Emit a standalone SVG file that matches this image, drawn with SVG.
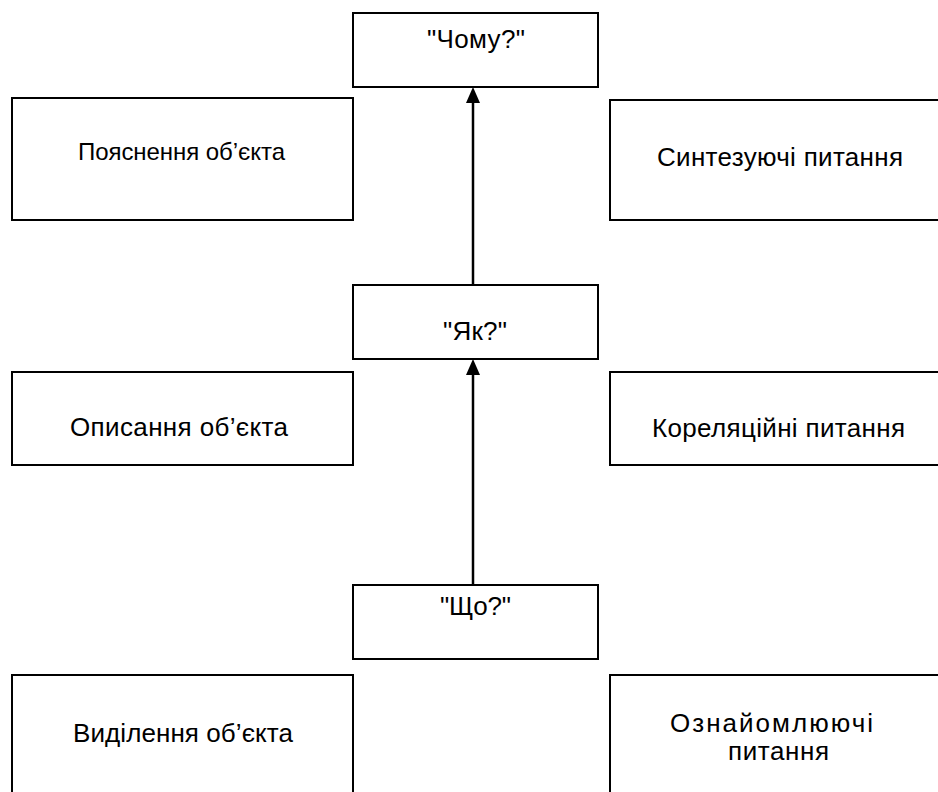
<svg xmlns="http://www.w3.org/2000/svg" width="938" height="792" viewBox="0 0 938 792">
<style>
.box{fill:#fff;stroke:#000;stroke-width:2}
.t{font-family:"Liberation Sans",Arial,sans-serif;font-size:26px;fill:#000;text-anchor:middle}
.s{font-size:24px}
.c{stroke:#000;stroke-width:2.5;fill:none}
</style>
<defs>
<marker id="ah" markerUnits="userSpaceOnUse" markerWidth="16" markerHeight="14" refX="0" refY="7" orient="auto" viewBox="0 0 16 14">
<path d="M0,0 L16,7 L0,14 Z" fill="#000"/>
</marker>
</defs>
<rect width="938" height="792" fill="#fff"/>
<g id="chomu"><rect class="box" x="353" y="13" width="245" height="74"/><text class="t" x="476" y="48" textLength="98" lengthAdjust="spacing">"Чому?"</text></g>
<g id="poyasnennya"><rect class="box" x="12" y="98" width="341" height="122"/><text class="t s" x="181.5" y="160" textLength="207" lengthAdjust="spacing">Пояснення об’єкта</text></g>
<g id="syntez"><rect class="box" x="610" y="100" width="345" height="120"/><text class="t" x="780" y="166" textLength="246" lengthAdjust="spacing">Синтезуючі питання</text></g>
<g id="yak"><rect class="box" x="353" y="285" width="245" height="74"/><text class="t" x="475" y="340" textLength="64" lengthAdjust="spacing">"Як?"</text></g>
<g id="opysannya"><rect class="box" x="12" y="372" width="341" height="93"/><text class="t" x="179" y="436" textLength="218" lengthAdjust="spacing">Описання об’єкта</text></g>
<g id="korel"><rect class="box" x="610" y="372" width="345" height="93"/><text class="t" x="778.5" y="437" textLength="253" lengthAdjust="spacing">Кореляційні питання</text></g>
<g id="scho"><rect class="box" x="353" y="585" width="245" height="74"/><text class="t" x="475.5" y="615" textLength="71" lengthAdjust="spacing">"Що?"</text></g>
<g id="vydilennya"><rect class="box" x="12" y="675" width="341" height="130"/><text class="t" x="183" y="742" textLength="220" lengthAdjust="spacing">Виділення об’єкта</text></g>
<g id="oznayom"><rect class="box" x="610" y="675" width="345" height="130"/><text class="t" x="771.5" y="732" textLength="203" lengthAdjust="spacing">Ознайомлюючі</text><text class="t" x="778.5" y="760" textLength="101" lengthAdjust="spacing">питання</text></g>
<g id="connectors">
<line class="c" x1="473" y1="285" x2="473" y2="103" marker-end="url(#ah)"/>
<line class="c" x1="473" y1="585" x2="473" y2="375" marker-end="url(#ah)"/>
</g>
</svg>
